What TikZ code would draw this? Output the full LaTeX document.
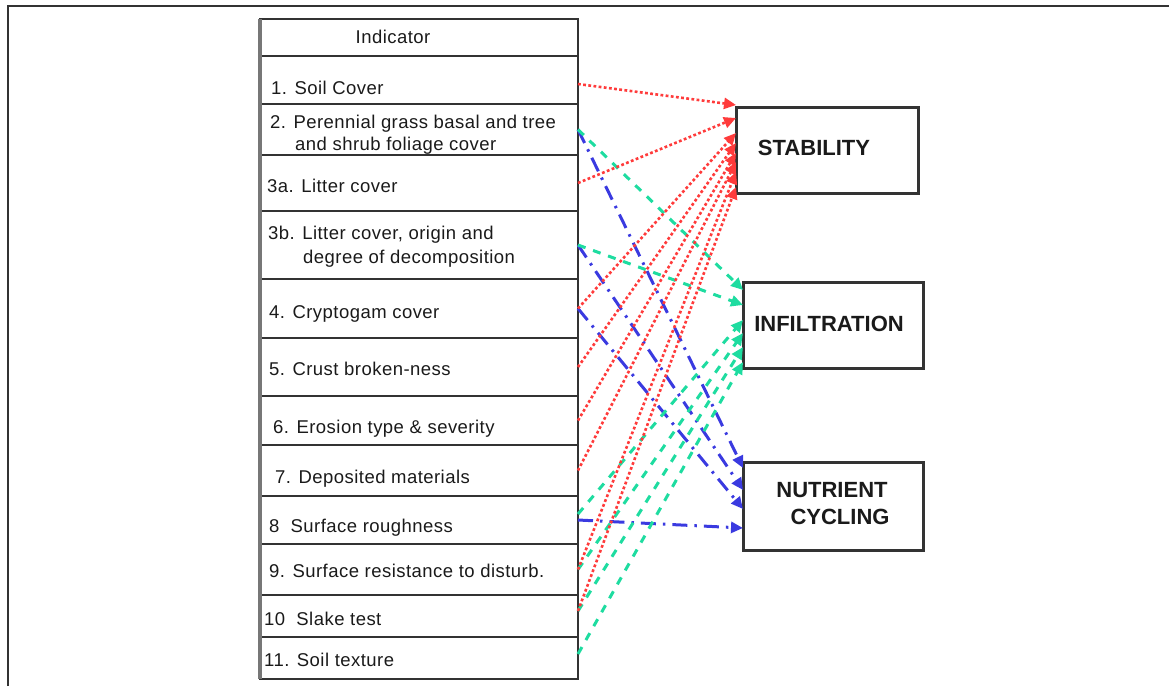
\documentclass[tikz,border=0pt]{standalone}
\usepackage{fontspec}
\setmainfont{Liberation Sans}
\newfontfamily\tabfont[LetterSpace=2.5]{Liberation Sans}
\usetikzlibrary{arrows.meta}
\definecolor{frm}{HTML}{333333}
\definecolor{lgray}{HTML}{777777}
\definecolor{txt}{HTML}{1A1A1A}
\definecolor{redc}{HTML}{FF3B3B}
\definecolor{grnc}{HTML}{1EDCA0}
\definecolor{bluc}{HTML}{3A3AE0}
\begin{document}
\begin{tikzpicture}[x=1pt,y=-1pt,
  rowbox/.style={draw=frm, line width=2.2pt, minimum width=318pt, inner sep=0pt, outer sep=0pt},
  tabtxt/.style={anchor=base west, inner sep=0pt, font=\tabfont\fontsize{18.5}{22}\selectfont, text=txt},
  bigbox/.style={draw=frm, line width=3pt, minimum width=180pt, minimum height=86pt, inner sep=0pt, outer sep=0pt},
  bigtxt/.style={font=\bfseries\fontsize{22}{26}\selectfont, inner sep=0pt, text=txt},
  tip/.style={-{Triangle[length=12pt,width=11pt]}},
  stabline/.style={draw=redc, line width=2.6pt, dash pattern=on 2.8pt off 2.4pt, tip},
  infline/.style={draw=grnc, line width=3pt, dash pattern=on 8pt off 8pt, tip},
  nutline/.style={draw=bluc, line width=3pt, dash pattern=on 15pt off 7pt on 2.5pt off 7pt, tip}]
\useasboundingbox (0,0) rectangle (1169,686);
% outer frame
\draw[frm, line width=2.5pt] (8,686) -- (8,6) -- (1169,6);

% table rows
\node[rowbox, minimum height=37pt] (hdr) at (419,37.5) {};
\node[rowbox, minimum height=48pt] (r1) at (419,80) {};
\node[rowbox, minimum height=51pt] (r2) at (419,129.5) {};
\node[rowbox, minimum height=56pt] (r3a) at (419,183) {};
\node[rowbox, minimum height=68pt] (r3b) at (419,245) {};
\node[rowbox, minimum height=59pt] (r4) at (419,308.5) {};
\node[rowbox, minimum height=58pt] (r5) at (419,367) {};
\node[rowbox, minimum height=49pt] (r6) at (419,420.5) {};
\node[rowbox, minimum height=51pt] (r7) at (419,470.5) {};
\node[rowbox, minimum height=48pt] (r8) at (419,520) {};
\node[rowbox, minimum height=51pt] (r9) at (419,569.5) {};
\node[rowbox, minimum height=42pt] (r10) at (419,616) {};
\node[rowbox, minimum height=42pt] (r11) at (419,658) {};
\draw[lgray, line width=3.5pt] (hdr.north west) -- (r11.south west);

% table texts
\node[tabtxt, anchor=base] (th) at (393,43) {Indicator};
\node[tabtxt] (t1) at (271,94) {1. Soil Cover};
\node[tabtxt] (t2a) at (270,128) {2. Perennial grass basal and tree};
\node[tabtxt] (t2b) at (295,150) {and shrub foliage cover};
\node[tabtxt] (t3a) at (267,192) {3a. Litter cover};
\node[tabtxt] (t3ba) at (268,239) {3b. Litter cover, origin and};
\node[tabtxt] (t3bb) at (303,263) {degree of decomposition};
\node[tabtxt] (t4) at (269,318) {4. Cryptogam cover};
\node[tabtxt] (t5) at (269,375) {5. Crust broken-ness};
\node[tabtxt] (t6) at (273,433) {6. Erosion type \& severity};
\node[tabtxt] (t7) at (275,483) {7. Deposited materials};
\node[tabtxt] (t8) at (269,532) {8\ \ Surface roughness};
\node[tabtxt] (t9) at (269,577) {9. Surface resistance to disturb.};
\node[tabtxt] (t10) at (264,625) {10\ \ Slake test};
\node[tabtxt] (t11) at (264,666) {11. Soil texture};

% target boxes
\node[bigbox, minimum width=182pt] (stab) at (827,150) {};
\node[bigtxt] (stabt) at (814,148) {STABILITY};
\node[bigbox] (infl) at (833,325) {};
\node[bigtxt] (inflt) at (829,324) {INFILTRATION};
\node[bigbox, minimum height=88pt] (nutr) at (833,506) {};
\node[bigtxt] (nutra) at (832,490) {NUTRIENT};
\node[bigtxt] (nutrb) at (840,517) {CYCLING};

% target points
\coordinate (s1) at ([yshift=45pt]stab.west);
\coordinate (s2) at ([yshift=32pt]stab.west);
\coordinate (s3) at ([yshift=17pt]stab.west);
\coordinate (s4) at ([yshift=7pt]stab.west);
\coordinate (s5) at ([yshift=-3pt]stab.west);
\coordinate (s6) at ([yshift=-12pt]stab.west);
\coordinate (s7) at ([yshift=-22pt]stab.west);
\coordinate (s8) at ([yshift=-37pt]stab.west);
\coordinate (i1) at ([yshift=35pt]infl.west);
\coordinate (i2) at ([yshift=20pt]infl.west);
\coordinate (i3) at ([yshift=5pt]infl.west);
\coordinate (i4) at ([yshift=-8pt]infl.west);
\coordinate (i5) at ([yshift=-22pt]infl.west);
\coordinate (i6) at ([yshift=-37pt]infl.west);
\coordinate (n1) at ([yshift=38pt]nutr.west);
\coordinate (n2) at ([yshift=16pt]nutr.west);
\coordinate (n3) at ([yshift=-3pt]nutr.west);
\coordinate (n4) at ([yshift=-22pt]nutr.west);

% nutrient cycling connectors
\draw[nutline] (r2.east) -- (n1);
\draw[nutline] (r3b.east) -- (n2);
\draw[nutline] (r4.east) -- (n3);
\draw[nutline] (r8.east) -- (n4);

% infiltration connectors
\draw[infline] (r2.east) -- (i1);
\draw[infline] (r3b.east) -- (i2);
\draw[infline] ([yshift=6pt]r8.east) -- (i3);
\draw[infline] (r9.east) -- (i4);
\draw[infline] ([yshift=5pt]r10.east) -- (i5);
\draw[infline] ([yshift=4pt]r11.east) -- (i6);

% stability connectors
\draw[stabline] ([yshift=-4pt]r1.east) -- (s1);
\draw[stabline] (r3a.east) -- (s2);
\draw[stabline] (r4.east) -- (s3);
\draw[stabline] (r5.east) -- (s4);
\draw[stabline] (r6.east) -- (s5);
\draw[stabline] (r7.east) -- (s6);
\draw[stabline] (r9.east) -- (s7);
\draw[stabline] ([yshift=5pt]r10.east) -- (s8);
\end{tikzpicture}
\end{document}
